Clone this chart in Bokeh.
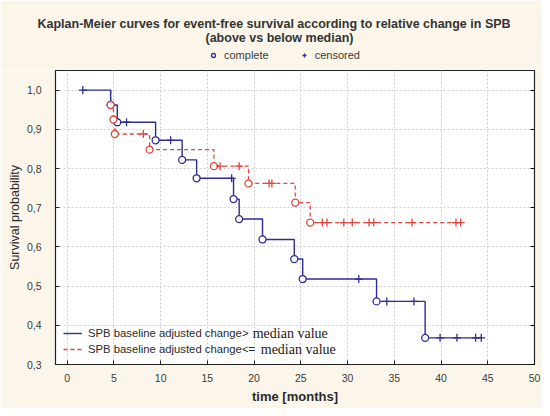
from bokeh.plotting import figure
from bokeh.layouts import column
from bokeh.models import Range1d, FixedTicker, LinearAxis, Legend, LegendItem, Label, Title
from bokeh.embed import file_html
from bokeh.resources import INLINE

# ---------------- data ----------------
x_ticks = [0, 5, 10, 15, 20, 25, 30, 35, 40, 45, 50]
y_ticks = [0.3, 0.4, 0.5, 0.6, 0.7, 0.8, 0.9, 1.0]
y_tick_labels = ["0,3", "0,4", "0,5", "0,6", "0,7", "0,8", "0,9", "1,0"]

title_lines = ["Kaplan-Meier curves for event-free survival according to relative change in SPB",
               "(above vs below median)"]
marker_names = ["complete", "censored"]
series_names = ["SPB baseline adjusted change>", "SPB baseline adjusted change<="]
series_suffix = "median value"

# group 1: change > median (blue, solid)
blue_start_t = 1.67
blue_event_t = [4.65, 5.36, 9.46, 12.3, 13.85, 17.8, 18.4, 20.9, 24.3, 25.2, 33.1, 38.3]
blue_event_s = [0.962, 0.918, 0.872, 0.822, 0.775, 0.722, 0.671, 0.619, 0.569, 0.518, 0.461, 0.368]
blue_cens_t = [1.67, 6.35, 11.07, 17.6, 31.2, 34.2, 37.1, 39.9, 41.7, 43.7, 44.3]
blue_cens_s = [1.0, 0.918, 0.872, 0.775, 0.518, 0.461, 0.461, 0.368, 0.368, 0.368, 0.368]

# group 2: change <= median (red, dashed)
red_start_t = 4.65
red_event_t = [4.65, 4.95, 5.1, 8.82, 15.7, 19.4, 24.4, 26.0]
red_event_s = [0.962, 0.925, 0.888, 0.848, 0.806, 0.762, 0.713, 0.662]
red_cens_t = [8.15, 16.35, 18.4, 21.6, 21.9, 27.3, 27.8, 29.6, 30.5, 32.3, 32.8, 36.9, 41.6, 42.1]
red_cens_s = [0.888, 0.806, 0.806, 0.762, 0.762, 0.662, 0.662, 0.662, 0.662, 0.662, 0.662, 0.662, 0.662, 0.662]

BLUE = "#2d2d96"
RED = "#e5453c"
BG = "#fcf6ea"
SANS = "Liberation Sans"
SERIF = "Liberation Serif"


def km_path(start, ev_t, ev_s, cens_t):
    end = max(ev_t[-1], cens_t[-1])
    xs = [start] + list(ev_t) + [end]
    ys = [1.0] + list(ev_s) + [ev_s[-1]]
    return xs, ys


# ---------------- header figure (title + marker legend) ----------------
h = figure(width=542, height=70, x_range=Range1d(0, 1), y_range=Range1d(0, 1),
           output_backend="svg", toolbar_location=None, title=None,
           min_border_left=0, min_border_right=0, min_border_top=43, min_border_bottom=0,
           background_fill_color=BG, border_fill_color=BG, x_axis_type=None, y_axis_type=None)
h.outline_line_color = None
h.grid.visible = False
h.add_layout(Title(text=title_lines[1], align="left", offset=150, standoff=-2,
                   text_font=SANS, text_font_size="12.5px", text_font_style="bold",
                   text_color="#333333"), "above")
h.add_layout(Title(text=title_lines[0], align="left", offset=-18, standoff=-2,
                   text_font=SANS, text_font_size="12.5px", text_font_style="bold",
                   text_color="#333333"), "above")
# legend sample renderers (their points fall outside this header's ranges)
hm_ev = h.scatter(blue_event_t, blue_event_s, marker="circle", size=7, line_color=BLUE,
                  line_width=1.3, fill_color="white")
hm_ce = h.scatter(blue_cens_t, blue_cens_s, marker="cross", size=8, line_color=BLUE, line_width=1.3)
mleg = Legend(items=[LegendItem(label=marker_names[0], renderers=[hm_ev]),
                     LegendItem(label=marker_names[1], renderers=[hm_ce])],
              orientation="horizontal", location=(153, 9), padding=0, margin=0, spacing=30,
              glyph_width=10, glyph_height=12, label_height=12, label_standoff=6,
              label_text_font=SANS, label_text_font_size="11px", label_text_color="#3a3a3a",
              border_line_alpha=0, background_fill_alpha=0)
h.add_layout(mleg)

# ---------------- main figure ----------------
p = figure(width=542, height=338, x_range=Range1d(-1.25, 50), y_range=Range1d(0.3, 1.05),
           output_backend="svg", toolbar_location=None, title=None,
           min_border_left=55, min_border_right=8, min_border_top=0, min_border_bottom=44,
           background_fill_color="white", border_fill_color=BG)
p.outline_line_color = "#222222"
p.outline_line_width = 1.2

for ax in (p.xaxis[0], p.yaxis[0]):
    ax.major_tick_in = 4
    ax.major_tick_out = 0
    ax.minor_tick_in = 0
    ax.minor_tick_out = 0
    ax.axis_line_color = "#222222"
    ax.major_tick_line_color = "#222222"
    ax.major_label_text_font = SANS
    ax.major_label_text_font_size = "10.5px"
    ax.major_label_text_color = "#3a3a3a"
p.xaxis.ticker = FixedTicker(ticks=x_ticks)
p.yaxis.ticker = FixedTicker(ticks=y_ticks)
p.yaxis.major_label_overrides = {t: l for t, l in zip(y_ticks, y_tick_labels)}
p.xaxis.major_label_standoff = 9
p.yaxis.major_label_standoff = 14
p.xaxis.axis_label = "time [months]"
p.xaxis.axis_label_text_font = SANS
p.xaxis.axis_label_text_font_style = "bold"
p.xaxis.axis_label_text_font_size = "13px"
p.xaxis.axis_label_text_color = "#2a2a2a"
p.xaxis.axis_label_standoff = 4
p.yaxis.axis_label = "Survival probability"
p.yaxis.axis_label_text_font = SANS
p.yaxis.axis_label_text_font_style = "normal"
p.yaxis.axis_label_text_font_size = "12.5px"
p.yaxis.axis_label_text_color = "#2a2a2a"
p.yaxis.axis_label_standoff = 2

right_ax = LinearAxis(ticker=FixedTicker(ticks=y_ticks), major_tick_in=4, major_tick_out=0,
                      minor_tick_in=0, minor_tick_out=0,
                      major_label_overrides={t: "" for t in y_ticks},
                      major_label_standoff=0, axis_line_color="#222222")
p.add_layout(right_ax, "right")

for g in (p.xgrid[0], p.ygrid[0]):
    g.grid_line_color = "#cfcfcf"
    g.grid_line_dash = "2 2"
    g.grid_line_width = 1
p.xgrid.ticker = FixedTicker(ticks=x_ticks)
p.ygrid.ticker = FixedTicker(ticks=y_ticks)

rx, ry = km_path(red_start_t, red_event_t, red_event_s, red_cens_t)
bx, by = km_path(blue_start_t, blue_event_t, blue_event_s, blue_cens_t)
r_line = p.step(rx, ry, mode="after", line_color=RED, line_width=1.3, line_dash="4 3")
b_line = p.step(bx, by, mode="after", line_color=BLUE, line_width=1.4)

p.scatter(blue_event_t, blue_event_s, marker="circle", size=7, line_color=BLUE,
          line_width=1.3, fill_color="white")
p.scatter(blue_cens_t, blue_cens_s, marker="cross", size=8, line_color=BLUE, line_width=1.3)
p.scatter(red_event_t, red_event_s, marker="circle", size=7, line_color=RED,
          line_width=1.3, fill_color="white")
p.scatter(red_cens_t, red_cens_s, marker="cross", size=8, line_color=RED, line_width=1.3)

leg = Legend(items=[LegendItem(label=series_names[0], renderers=[b_line]),
                    LegendItem(label=series_names[1], renderers=[r_line])],
             location=(8, 8), padding=0, margin=0, spacing=2, glyph_width=19, glyph_height=14,
             label_height=14, label_standoff=6, label_text_font=SANS, label_text_font_size="11.3px",
             label_text_color="#2a2a2a", border_line_alpha=0, background_fill_alpha=0)
p.add_layout(leg)
p.add_layout(Label(x=19.85, y=0.379, text=series_suffix, text_font=SERIF, text_font_size="14px",
                   text_baseline="middle", text_color="#1a1a1a"))
p.add_layout(Label(x=20.71, y=0.338, text=series_suffix, text_font=SERIF, text_font_size="14px",
                   text_baseline="middle", text_color="#1a1a1a"))

layout = column(h, p, spacing=0)
open("out.html", "w").write(file_html(layout, INLINE))
